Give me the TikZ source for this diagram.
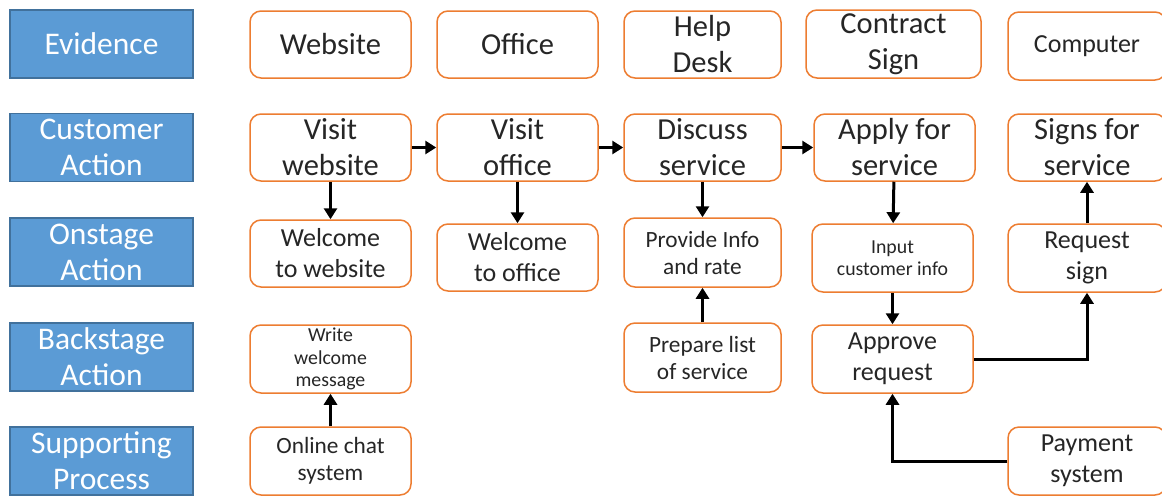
\documentclass[tikz,border=0pt]{standalone}
\usepackage{fontspec}
\setmainfont{Carlito}
\usetikzlibrary{arrows.meta}

\definecolor{laneblue}{RGB}{91,155,213}
\definecolor{laneedge}{RGB}{65,113,156}
\definecolor{stepedge}{RGB}{237,125,49}
\definecolor{inkgrey}{RGB}{38,38,38}

\begin{document}
\begin{tikzpicture}[x=1pt,y=-1pt]
	\tikzset{lane/.style={draw=laneedge,fill=laneblue,line width=1.2pt,text=white,align=center,
			minimum width=183pt,minimum height=68pt,inner sep=0pt,font=\fontsize{31.5}{36}\selectfont}}
	\tikzset{stepbox/.style={draw=stepedge,fill=white,line width=1.5pt,rounded corners=11pt,align=center,
			text=inkgrey,minimum width=161pt,minimum height=67pt,inner sep=0pt}}
	\tikzset{big/.style={font=\fontsize{30.5}{36}\selectfont}}
	\tikzset{mid/.style={font=\fontsize{26}{31}\selectfont}}
	\tikzset{small/.style={font=\fontsize{23.3}{27}\selectfont}}
	\tikzset{tiny/.style={font=\fontsize{19.8}{22.5}\selectfont}}
	\tikzset{flow/.style={-{Triangle[length=11pt,width=13pt]},line width=3pt,black}}
	\useasboundingbox (0,0) rectangle (1162,496);
	% swim lane headers
	\node[lane] (evidence) at (101.5,44) {Evidence};
	\node[lane] (customer) at (101.5,147.5) {Customer\\Action};
	\node[lane] (onstage) at (101.5,252) {Onstage\\Action};
	\node[lane] (backstage) at (101.5,357) {Backstage\\Action};
	\node[lane] (support) at (101.5,461) {Supporting\\Process};
	% evidence row
	\node[stepbox,big] (website) at (330.5,44.5) {Website};
	\node[stepbox,big] (office) at (517.5,44.5) {Office};
	\node[stepbox,big,minimum width=157pt] (helpdesk) at (702.5,44.5) {Help\\Desk};
	\node[stepbox,big,minimum width=175pt,minimum height=68pt] (contract) at (893.5,44) {Contract\\Sign};
	\node[stepbox,mid,minimum width=158pt,minimum height=68pt] (computer) at (1087,46) {Computer};
	% customer actions
	\node[stepbox,big] (visitweb) at (330.5,147.5) {Visit\\website};
	\node[stepbox,big] (visitoffice) at (517.5,147.5) {Visit\\office};
	\node[stepbox,big,minimum width=157pt] (discuss) at (702.5,147.5) {Discuss\\service};
	\node[stepbox,big] (apply) at (894.5,147.5) {Apply for\\service};
	\node[stepbox,big,minimum width=158pt] (signs) at (1087,147.5) {Signs for\\service};
	% onstage
	\node[stepbox,mid] (welcomeweb) at (330.5,253.5) {Welcome\\to website};
	\node[stepbox,mid] (welcomeoffice) at (517.5,257.5) {Welcome\\to office};
	\node[stepbox,small,minimum width=157pt,minimum height=69pt] (provide) at (702.5,252.5) {Provide Info\\and rate};
	\node[stepbox,tiny,minimum height=68pt] (input) at (892.5,258) {Input\\customer info};
	\node[stepbox,mid,minimum width=158pt,minimum height=68pt] (reqsign) at (1087,258) {Request\\sign};
	% backstage
	\node[stepbox,tiny,minimum height=68pt] (writemsg) at (330.5,359) {Write\\welcome\\message};
	\node[stepbox,small,minimum width=157pt,minimum height=69pt] (prepare) at (702.5,357.5) {Prepare list\\of service};
	\node[stepbox,mid,minimum height=68pt] (approve) at (892.5,359) {Approve\\request};
	% supporting
	\node[stepbox,small,minimum height=68pt] (chat) at (330.5,461) {Online chat\\system};
	\node[stepbox,mid,minimum width=158pt,minimum height=68pt] (payment) at (1087,461) {Payment\\system};
	% connectors
	\draw[flow] (visitweb) -- (visitoffice);
	\draw[flow] (visitoffice) -- (discuss);
	\draw[flow] (discuss) -- (apply);
	\draw[flow] (visitweb) -- (welcomeweb);
	\draw[flow] (visitoffice) -- (welcomeoffice);
	\draw[flow] (discuss) -- (provide);
	\draw[flow] (prepare) -- (provide);
	\draw[flow] (apply) -- (input);
	\draw[flow] (input) -- (approve);
	\draw[flow] (chat) -- (writemsg);
	\draw[flow] (reqsign) -- (signs);
	\draw[flow] (approve.east) -| (reqsign.south);
	\draw[flow] (payment.west) -| (approve.south);
\end{tikzpicture}
\end{document}
